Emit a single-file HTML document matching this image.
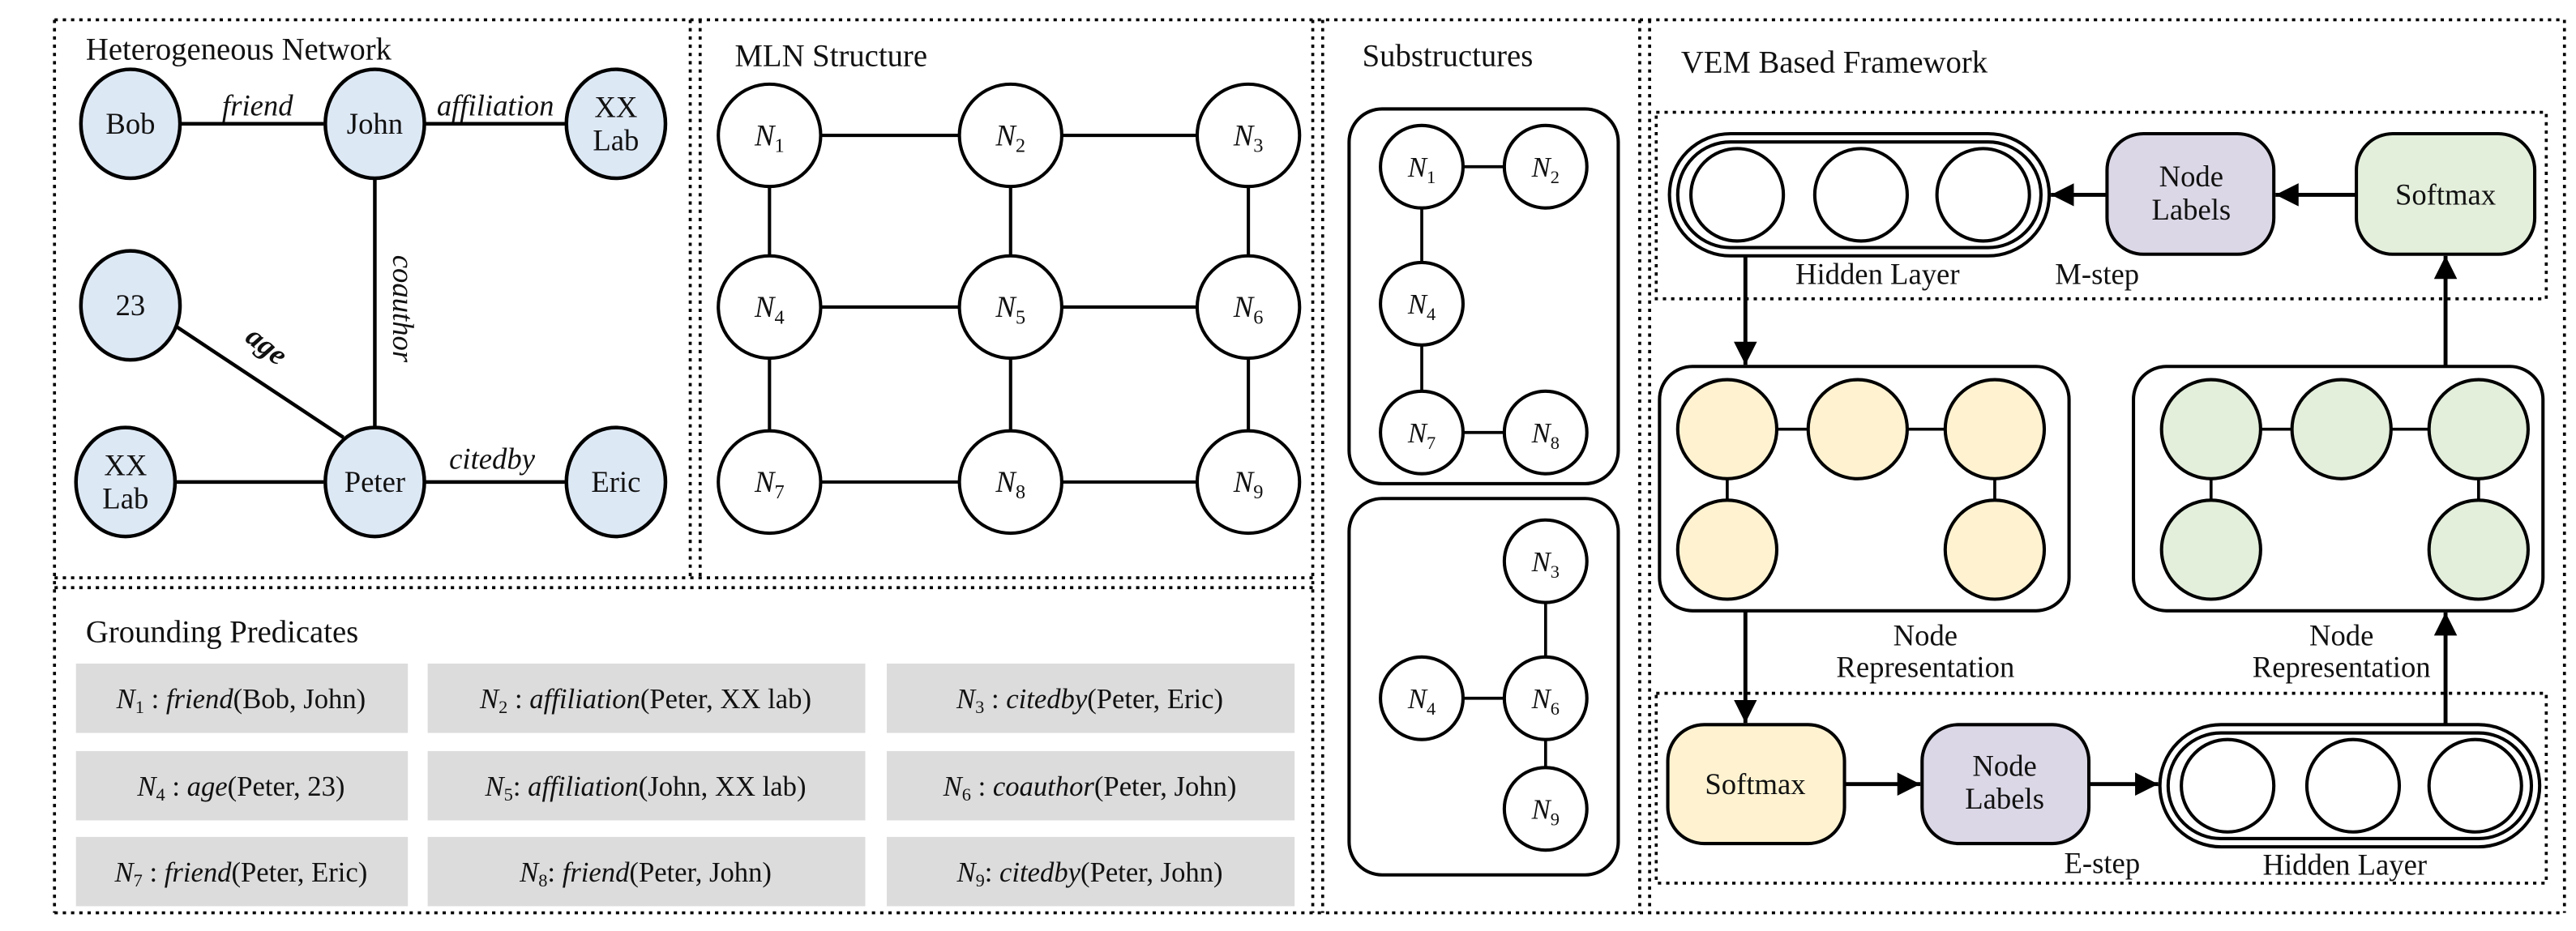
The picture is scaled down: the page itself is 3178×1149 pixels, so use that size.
<!DOCTYPE html>
<html><head><meta charset="utf-8"><style>
html,body{margin:0;padding:0;background:#fff;}
svg{display:block;}
text{font-family:"Liberation Serif","Times New Roman",serif;fill:#111;}
</style></head><body>
<svg width="3178" height="1149" viewBox="0 0 1560 564" preserveAspectRatio="none" xmlns="http://www.w3.org/2000/svg" font-family="Liberation Serif, serif">
<defs>
<marker id="ab" viewBox="0 0 14 14" markerWidth="14" markerHeight="14" refX="14" refY="7" orient="auto" markerUnits="userSpaceOnUse"><path d="M0,0 L14,7 L0,14 z" fill="#000"/></marker>
</defs>
<g fill="none" stroke="#000" stroke-width="1.8" stroke-dasharray="2 3">
<line x1="33" y1="12" x2="1553" y2="12"/>
<line x1="33" y1="553" x2="1553" y2="553"/>
<line x1="33" y1="12" x2="33" y2="553"/>
<line x1="1553" y1="12" x2="1553" y2="553"/>
<line x1="418" y1="12" x2="418" y2="350"/>
<line x1="424" y1="12" x2="424" y2="350"/>
<line x1="33" y1="350" x2="795" y2="350"/>
<line x1="33" y1="356" x2="795" y2="356"/>
<line x1="795" y1="12" x2="795" y2="553"/>
<line x1="801" y1="12" x2="801" y2="553"/>
<line x1="993" y1="12" x2="993" y2="553"/>
<line x1="999" y1="12" x2="999" y2="553"/>
<rect x="1003" y="68" width="539" height="113"/>
<rect x="1003" y="420" width="539" height="115"/>
</g>
<g font-family="Liberation Serif, serif">
<text x="52" y="36" font-size="19">Heterogeneous Network</text>
<text x="445" y="40" font-size="19">MLN Structure</text>
<text x="825" y="40" font-size="19">Substructures</text>
<text x="1018" y="44" font-size="19">VEM Based Framework</text>
<text x="52" y="389" font-size="19">Grounding Predicates</text>
</g>

<g stroke="#000" stroke-width="2.2">
<line x1="108" y1="75" x2="196" y2="75"/>
<line x1="256" y1="75" x2="342" y2="75"/>
<line x1="227" y1="108" x2="227" y2="260"/>
<line x1="104" y1="196" x2="208" y2="265"/>
<line x1="106" y1="292" x2="196" y2="292"/>
<line x1="256" y1="292" x2="342" y2="292"/>
</g>
<g fill="#dde8f5" stroke="#000" stroke-width="2.2">
<ellipse cx="79" cy="75" rx="30" ry="33"/>
<ellipse cx="227" cy="75" rx="30" ry="33"/>
<ellipse cx="373" cy="75" rx="30" ry="33"/>
<ellipse cx="79" cy="185" rx="30" ry="33"/>
<ellipse cx="76" cy="292" rx="30" ry="33"/>
<ellipse cx="227" cy="292" rx="30" ry="33"/>
<ellipse cx="373" cy="292" rx="30" ry="33"/>
</g>
<g font-size="18" text-anchor="middle" font-family="Liberation Serif, serif">
<text x="79" y="81">Bob</text>
<text x="227" y="81">John</text>
<text x="373" y="71">XX</text><text x="373" y="91">Lab</text>
<text x="79" y="191">23</text>
<text x="76" y="288">XX</text><text x="76" y="308">Lab</text>
<text x="227" y="298">Peter</text>
<text x="373" y="298">Eric</text>
<text x="156" y="70" font-style="italic">friend</text>
<text x="300" y="70" font-style="italic">affiliation</text>
<text x="298" y="284" font-style="italic">citedby</text>
<text transform="translate(238,187) rotate(90)" font-style="italic">coauthor</text>
<text transform="translate(158,214) rotate(38)" font-style="italic" font-weight="bold">age</text>
</g>

<g stroke="#000" stroke-width="2">
<line x1="466" y1="82" x2="756" y2="82"/>
<line x1="466" y1="186" x2="756" y2="186"/>
<line x1="466" y1="292" x2="756" y2="292"/>
<line x1="466" y1="82" x2="466" y2="292"/>
<line x1="612" y1="82" x2="612" y2="292"/>
<line x1="756" y1="82" x2="756" y2="292"/>
</g>
<g fill="#fff" stroke="#000" stroke-width="2">
<circle cx="466" cy="82" r="31"/><circle cx="612" cy="82" r="31"/><circle cx="756" cy="82" r="31"/>
<circle cx="466" cy="186" r="31"/><circle cx="612" cy="186" r="31"/><circle cx="756" cy="186" r="31"/>
<circle cx="466" cy="292" r="31"/><circle cx="612" cy="292" r="31"/><circle cx="756" cy="292" r="31"/>
</g>
<g font-size="18" text-anchor="middle" font-style="italic" font-family="Liberation Serif, serif">
<text x="466" y="88">N<tspan font-size="12" font-style="normal" dy="4">1</tspan></text>
<text x="612" y="88">N<tspan font-size="12" font-style="normal" dy="4">2</tspan></text>
<text x="756" y="88">N<tspan font-size="12" font-style="normal" dy="4">3</tspan></text>
<text x="466" y="192">N<tspan font-size="12" font-style="normal" dy="4">4</tspan></text>
<text x="612" y="192">N<tspan font-size="12" font-style="normal" dy="4">5</tspan></text>
<text x="756" y="192">N<tspan font-size="12" font-style="normal" dy="4">6</tspan></text>
<text x="466" y="298">N<tspan font-size="12" font-style="normal" dy="4">7</tspan></text>
<text x="612" y="298">N<tspan font-size="12" font-style="normal" dy="4">8</tspan></text>
<text x="756" y="298">N<tspan font-size="12" font-style="normal" dy="4">9</tspan></text>
</g>

<g fill="#dcdcdc">
<rect x="46" y="402" width="201" height="42"/><rect x="259" y="402" width="265" height="42"/><rect x="537" y="402" width="247" height="42"/>
<rect x="46" y="455" width="201" height="42"/><rect x="259" y="455" width="265" height="42"/><rect x="537" y="455" width="247" height="42"/>
<rect x="46" y="507" width="201" height="42"/><rect x="259" y="507" width="265" height="42"/><rect x="537" y="507" width="247" height="42"/>
</g>
<g font-size="17" text-anchor="middle" font-family="Liberation Serif, serif">
<text x="146" y="429"><tspan font-style="italic">N</tspan><tspan font-size="11" dy="3">1</tspan><tspan dy="-3"> : </tspan><tspan font-style="italic">friend</tspan>(Bob, John)</text>
<text x="391" y="429"><tspan font-style="italic">N</tspan><tspan font-size="11" dy="3">2</tspan><tspan dy="-3"> : </tspan><tspan font-style="italic">affiliation</tspan>(Peter, XX lab)</text>
<text x="660" y="429"><tspan font-style="italic">N</tspan><tspan font-size="11" dy="3">3</tspan><tspan dy="-3"> : </tspan><tspan font-style="italic">citedby</tspan>(Peter, Eric)</text>
<text x="146" y="482"><tspan font-style="italic">N</tspan><tspan font-size="11" dy="3">4</tspan><tspan dy="-3"> : </tspan><tspan font-style="italic">age</tspan>(Peter, 23)</text>
<text x="391" y="482"><tspan font-style="italic">N</tspan><tspan font-size="11" dy="3">5</tspan><tspan dy="-3">: </tspan><tspan font-style="italic">affiliation</tspan>(John, XX lab)</text>
<text x="660" y="482"><tspan font-style="italic">N</tspan><tspan font-size="11" dy="3">6</tspan><tspan dy="-3"> : </tspan><tspan font-style="italic">coauthor</tspan>(Peter, John)</text>
<text x="146" y="534"><tspan font-style="italic">N</tspan><tspan font-size="11" dy="3">7</tspan><tspan dy="-3"> : </tspan><tspan font-style="italic">friend</tspan>(Peter, Eric)</text>
<text x="391" y="534"><tspan font-style="italic">N</tspan><tspan font-size="11" dy="3">8</tspan><tspan dy="-3">: </tspan><tspan font-style="italic">friend</tspan>(Peter, John)</text>
<text x="660" y="534"><tspan font-style="italic">N</tspan><tspan font-size="11" dy="3">9</tspan><tspan dy="-3">: </tspan><tspan font-style="italic">citedby</tspan>(Peter, John)</text>
</g>

<g fill="none" stroke="#000" stroke-width="2">
<rect x="817" y="66" width="163" height="227" rx="20"/>
<rect x="817" y="302" width="163" height="228" rx="20"/>
</g>
<g stroke="#000" stroke-width="1.8">
<line x1="861" y1="101" x2="936" y2="101"/><line x1="861" y1="101" x2="861" y2="262"/><line x1="861" y1="262" x2="936" y2="262"/>
<line x1="936" y1="340" x2="936" y2="490"/><line x1="861" y1="423" x2="936" y2="423"/>
</g>
<g fill="#fff" stroke="#000" stroke-width="2">
<circle cx="861" cy="101" r="25"/><circle cx="936" cy="101" r="25"/><circle cx="861" cy="184" r="25"/><circle cx="861" cy="262" r="25"/><circle cx="936" cy="262" r="25"/>
<circle cx="936" cy="340" r="25"/><circle cx="861" cy="423" r="25"/><circle cx="936" cy="423" r="25"/><circle cx="936" cy="490" r="25"/>
</g>
<g font-size="17" text-anchor="middle" font-style="italic" font-family="Liberation Serif, serif">
<text x="861" y="107">N<tspan font-size="11" font-style="normal" dy="4">1</tspan></text>
<text x="936" y="107">N<tspan font-size="11" font-style="normal" dy="4">2</tspan></text>
<text x="861" y="190">N<tspan font-size="11" font-style="normal" dy="4">4</tspan></text>
<text x="861" y="268">N<tspan font-size="11" font-style="normal" dy="4">7</tspan></text>
<text x="936" y="268">N<tspan font-size="11" font-style="normal" dy="4">8</tspan></text>
<text x="936" y="346">N<tspan font-size="11" font-style="normal" dy="4">3</tspan></text>
<text x="861" y="429">N<tspan font-size="11" font-style="normal" dy="4">4</tspan></text>
<text x="936" y="429">N<tspan font-size="11" font-style="normal" dy="4">6</tspan></text>
<text x="936" y="496">N<tspan font-size="11" font-style="normal" dy="4">9</tspan></text>
</g>

<g fill="#fff" stroke="#000" stroke-width="2">
<rect x="1011" y="81" width="230" height="74" rx="37"/>
<rect x="1016" y="86" width="220" height="64" rx="32"/>
<circle cx="1052" cy="118" r="28"/><circle cx="1127" cy="118" r="28"/><circle cx="1201" cy="118" r="28"/>
<rect x="1308" y="439" width="230" height="74" rx="37"/>
<rect x="1313" y="444" width="220" height="64" rx="32"/>
<circle cx="1349" cy="476" r="28"/><circle cx="1425" cy="476" r="28"/><circle cx="1499" cy="476" r="28"/>
<rect x="1005" y="222" width="248" height="148" rx="20"/>
<rect x="1292" y="222" width="248" height="148" rx="20"/>
</g>
<g fill="#dcd7e6" stroke="#000" stroke-width="2">
<rect x="1276" y="81" width="101" height="73" rx="22"/>
<rect x="1164" y="439" width="101" height="72" rx="22"/>
</g>
<rect x="1427" y="81" width="108" height="73" rx="22" fill="#e3eedb" stroke="#000" stroke-width="2"/>
<rect x="1010" y="439" width="107" height="72" rx="22" fill="#fef2d0" stroke="#000" stroke-width="2"/>
<g stroke="#000" stroke-width="1.8">
<line x1="1046" y1="260" x2="1208" y2="260"/><line x1="1046" y1="260" x2="1046" y2="333"/><line x1="1208" y1="260" x2="1208" y2="333"/>
<line x1="1339" y1="260" x2="1501" y2="260"/><line x1="1339" y1="260" x2="1339" y2="333"/><line x1="1501" y1="260" x2="1501" y2="333"/>
</g>
<g fill="#fef2d0" stroke="#000" stroke-width="2">
<circle cx="1046" cy="260" r="30"/><circle cx="1125" cy="260" r="30"/><circle cx="1208" cy="260" r="30"/><circle cx="1046" cy="333" r="30"/><circle cx="1208" cy="333" r="30"/>
</g>
<g fill="#e3eedb" stroke="#000" stroke-width="2">
<circle cx="1339" cy="260" r="30"/><circle cx="1418" cy="260" r="30"/><circle cx="1501" cy="260" r="30"/><circle cx="1339" cy="333" r="30"/><circle cx="1501" cy="333" r="30"/>
</g>
<g stroke="#000" stroke-width="2.4" marker-end="url(#ab)">
<line x1="1427" y1="118" x2="1378" y2="118"/>
<line x1="1276" y1="118" x2="1242" y2="118"/>
<line x1="1057" y1="155" x2="1057" y2="221"/>
<line x1="1057" y1="370" x2="1057" y2="438"/>
<line x1="1117" y1="475" x2="1163" y2="475"/>
<line x1="1265" y1="475" x2="1307" y2="475"/>
<line x1="1481" y1="439" x2="1481" y2="371"/>
<line x1="1481" y1="222" x2="1481" y2="155"/>
</g>
<g font-size="18" text-anchor="middle" font-family="Liberation Serif, serif">
<text x="1327" y="113">Node</text><text x="1327" y="133">Labels</text>
<text x="1481" y="124">Softmax</text>
<text x="1214" y="470">Node</text><text x="1214" y="490">Labels</text>
<text x="1063" y="481">Softmax</text>
<text x="1137" y="172">Hidden Layer</text>
<text x="1270" y="172">M-step</text>
<text x="1166" y="391">Node</text><text x="1166" y="410">Representation</text>
<text x="1418" y="391">Node</text><text x="1418" y="410">Representation</text>
<text x="1273" y="529">E-step</text>
<text x="1420" y="530">Hidden Layer</text>
</g>
</svg>
</body></html>
